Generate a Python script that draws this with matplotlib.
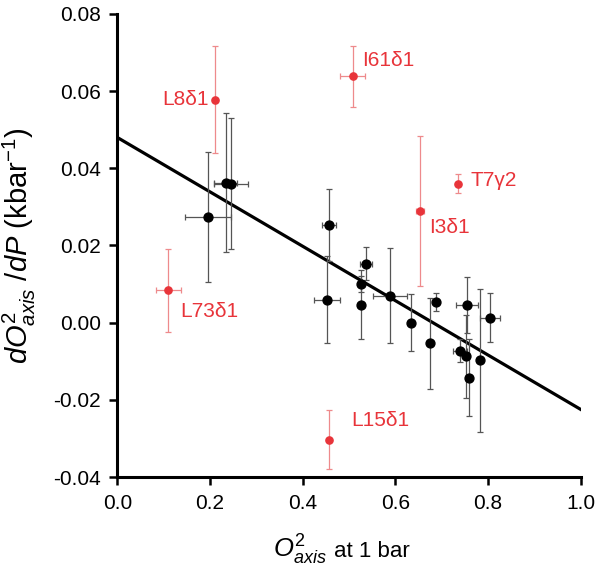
import matplotlib
matplotlib.use("Agg")
import matplotlib.pyplot as plt
import numpy as np

# black residues
bx = [0.196, 0.234, 0.245, 0.457, 0.452, 0.536, 0.526, 0.526, 0.588, 0.633,
      0.674, 0.688, 0.755, 0.804, 0.739, 0.752, 0.758, 0.782]
by = [0.0274, 0.0363, 0.0360, 0.0253, 0.0060, 0.0153, 0.0100, 0.0047, 0.0070, 0.0000,
      -0.0054, 0.0053, 0.0046, 0.0013, -0.0073, -0.0087, -0.0143, -0.0098]
byerr = [0.0168, 0.018, 0.017, 0.0094, 0.0114, 0.0042, 0.002, 0.0089, 0.0124, 0.0073,
         0.0118, 0.0024, 0.0072, 0.0063, 0.003, 0.0107, 0.010, 0.0185]
bxerr = [0.049, 0.025, 0.036, 0.015, 0.028, 0.0125, 0.007, 0.007, 0.037, 0.003,
         0.003, 0.004, 0.024, 0.022, 0.015, 0.005, 0.006, 0.005]

# red (outlier) residues
rlabels = ["L8δ1", "I61δ1", "T7γ2", "I3δ1", "L73δ1", "L15δ1"]
rx = [0.211, 0.508, 0.736, 0.653, 0.110, 0.457]
ry = [0.0578, 0.0638, 0.036, 0.029, 0.0084, -0.0303]
ryerr = [0.0138, 0.008, 0.0025, 0.0195, 0.0107, 0.0076]
rxerr = [0.0, 0.027, 0.004, 0.009, 0.0266, 0.0]

# linear fit
fit_intercept = 0.048
fit_slope = -0.0705

plt.rcParams["font.family"] = ["Liberation Sans", "DejaVu Sans"]
plt.rcParams["mathtext.fontset"] = "custom"
plt.rcParams["mathtext.rm"] = "Liberation Sans"
plt.rcParams["mathtext.it"] = "Liberation Sans:italic"

red = "#e8343a"

fig = plt.figure(figsize=(6.0, 5.68), dpi=100)
ax = fig.add_axes([0.1955, 0.1602, 0.7725, 0.8152])

xl = np.array([0.0, 1.0])
ax.plot(xl, fit_intercept + fit_slope * xl, color="black", lw=2.3, zorder=2)

ax.errorbar(bx, by, yerr=byerr, xerr=bxerr, fmt="o", color="black", ms=6.4,
            ecolor="#555555", elinewidth=0.9, capsize=2.5, capthick=0.9, zorder=3)
ax.errorbar(rx, ry, yerr=ryerr, xerr=rxerr, fmt="o", color=red, ms=5.2,
            ecolor="#ee8a8c", elinewidth=0.9, capsize=2.5, capthick=0.9, zorder=3)

offsets = [(-6, 0, "right"), (9, 16, "left"), (12, 3, "left"),
           (9, -17, "left"), (12, -21, "left"), (22, 19, "left")]
for lab, x, y, (dx, dy, ha) in zip(rlabels, rx, ry, offsets):
    ax.annotate(lab, (x, y), xytext=(dx, dy), textcoords="offset pixels",
                ha=ha, va="center", color=red, fontsize=15)

ax.set_xlim(0, 1.0)
ax.set_ylim(-0.04, 0.08)
ax.set_xticks(np.arange(0, 1.01, 0.2))
ax.set_yticks(np.arange(-0.04, 0.081, 0.02))
ax.set_xticklabels(["0.0", "0.2", "0.4", "0.6", "0.8", "1.0"])
ax.set_yticklabels(["-0.04", "-0.02", "0.00", "0.02", "0.04", "0.06", "0.08"])
ax.tick_params(labelsize=15, width=1.8, length=6, direction="out", pad=6)

for s in ["top", "right"]:
    ax.spines[s].set_visible(False)
for s in ["left", "bottom"]:
    ax.spines[s].set_linewidth(2.2)

# x label: larger symbol, smaller plain text
ax.text(0.336, -0.173, r"$O^2_{axis}$", transform=ax.transAxes,
        ha="left", va="baseline", fontsize=18.5)
ax.text(0.468, -0.173, "at 1 bar", transform=ax.transAxes,
        ha="left", va="baseline", fontsize=16)

ax.set_ylabel(r"$dO^2_{axis}$ /$dP$ (kbar$^{-1}$)", fontsize=21)
ax.yaxis.set_label_coords(-0.171, 0.5)

fig.savefig("out.png", dpi=100)
